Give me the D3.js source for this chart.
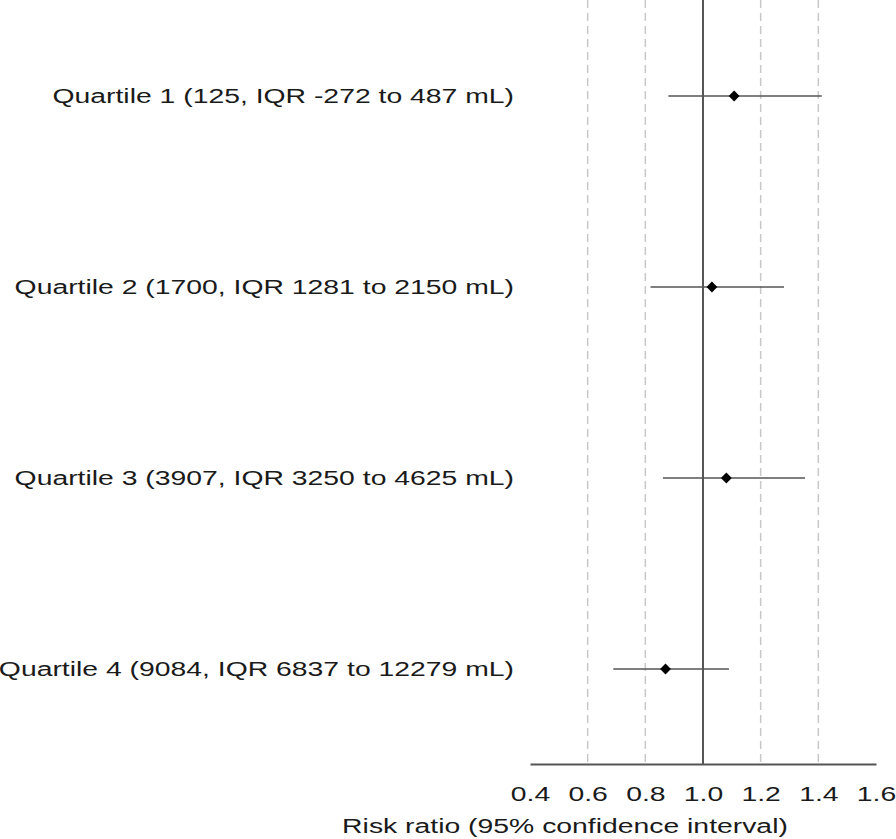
<!DOCTYPE html>
<html>
<head>
<meta charset="utf-8">
<script src="https://cdn.jsdelivr.net/npm/d3@7"></script>
<style>
	body { margin: 0; background: #fff; }
	text { font-family: "Liberation Sans", Arial, sans-serif; fill: #1a1a1a; }
</style>
</head>
<body>
<svg id="chart" width="896" height="839"></svg>
<script>
// categories and estimates
var labels = [
	"Quartile 1 (125, IQR -272 to 487 mL)",
	"Quartile 2 (1700, IQR 1281 to 2150 mL)",
	"Quartile 3 (3907, IQR 3250 to 4625 mL)",
	"Quartile 4 (9084, IQR 6837 to 12279 mL)"
];
var riskRatio = [1.108, 1.031, 1.081, 0.870];
var ciLow = [0.880, 0.818, 0.861, 0.689];
var ciHigh = [1.412, 1.281, 1.354, 1.090];
var tickValues = [0.4, 0.6, 0.8, 1.0, 1.2, 1.4, 1.6];
var gridValues = [0.6, 0.8, 1.2, 1.4];

// the original figure is stretched sideways, so text gets the same stretch
var stretch = "scale(1.35,1)";

var svg = d3.select("#chart");

var x = d3.scaleLinear()
	.domain([0.4, 1.6])
	.range([530, 876]);

var y = d3.scalePoint()
	.domain(labels)
	.range([96, 669]);

var axisY = 764;

// dashed reference lines
svg.selectAll(".grid")
	.data(gridValues)
	.enter().append("line")
	.attr("class", "grid")
	.attr("x1", function(d) { return x(d); })
	.attr("x2", function(d) { return x(d); })
	.attr("y1", 0)
	.attr("y2", axisY)
	.attr("stroke", "#c8c8c8")
	.attr("stroke-width", 1.5)
	.attr("stroke-dasharray", "8,5");

// line of no effect
svg.append("line")
	.attr("x1", x(1))
	.attr("x2", x(1))
	.attr("y1", 0)
	.attr("y2", axisY)
	.attr("stroke", "#444")
	.attr("stroke-width", 1.8);

// x axis
var axis = d3.axisBottom(x)
	.tickValues(tickValues)
	.tickSize(0)
	.tickPadding(22)
	.tickFormat(d3.format(".1f"));

var gAxis = svg.append("g")
	.attr("transform", "translate(0," + axisY + ")")
	.call(axis);
gAxis.select(".domain")
	.attr("stroke", "#555")
	.attr("stroke-width", 2);
gAxis.selectAll("text")
	.attr("transform", stretch)
	.style("font-family", "'Liberation Sans', Arial, sans-serif")
	.style("font-size", "21px")
	.attr("fill", "#1a1a1a");

svg.append("text")
	.attr("transform", "translate(565,833) " + stretch)
	.attr("text-anchor", "middle")
	.style("font-size", "21px")
	.text("Risk ratio (95% confidence interval)");

// rows
var rows = svg.selectAll(".row")
	.data(labels)
	.enter().append("g")
	.attr("class", "row")
	.attr("transform", function(d) { return "translate(0," + y(d) + ")"; });

rows.append("text")
	.attr("transform", "translate(514,0) " + stretch)
	.attr("dy", "0.35em")
	.attr("text-anchor", "end")
	.style("font-size", "21px")
	.text(function(d) { return d; });

rows.append("line")
	.attr("x1", function(d, i) { return x(ciLow[i]); })
	.attr("x2", function(d, i) { return x(ciHigh[i]); })
	.attr("stroke", "#555")
	.attr("stroke-width", 1.5);

rows.append("path")
	.attr("transform", function(d, i) { return "translate(" + x(riskRatio[i]) + ",0)"; })
	.attr("d", d3.symbol().type(d3.symbolDiamond2).size(75))
	.attr("fill", "#000");
</script>
</body>
</html>
